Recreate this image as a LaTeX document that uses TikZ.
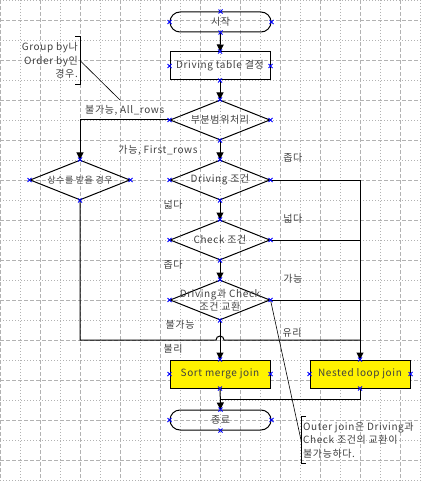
\documentclass[tikz,border=0pt]{standalone}
\usepackage{fontspec}
\setmainfont{Noto Sans CJK KR}[LetterSpace=6]
\usetikzlibrary{arrows.meta,shapes.geometric,calc}

\begin{document}
\begin{tikzpicture}[x=1pt, y=-1pt,
  every node/.style={font=\fontsize{10}{13.5}\selectfont, text=black!75},
  term/.style={draw, line width=1pt, rounded corners=10pt, minimum width=101pt,
    minimum height=20pt, inner sep=0pt},
  proc/.style={draw, line width=1pt, minimum width=100pt, minimum height=28pt, inner sep=0pt},
  job/.style={proc, fill=yellow},
  dec/.style={diamond, draw, line width=1pt, minimum width=100pt, minimum height=40pt, inner sep=0pt},
  memo/.style={align=left, inner xsep=2pt, inner ysep=0pt, minimum height=47pt},
  ln/.style={line width=1pt},
  arr/.style={ln, -{Triangle[length=7pt, width=7pt]}},
  lead/.style={line width=0.6pt},
  lbl/.style={inner sep=1pt},
  xm/.style={blue, line width=0.8pt},
  gdash/.style={black!30, line width=0.6pt, dash pattern=on 4pt off 2pt},
  gdot/.style={black!30, line width=0.6pt, dash pattern=on 1pt off 2pt}
]
\useasboundingbox (0,0) rectangle (421,481);
\foreach \i in {0,...,10} \draw[gdash] (40*\i,0) -- (40*\i,481);
\foreach \i in {0,...,10} \draw[gdot] (40*\i+20,0) -- (40*\i+20,481);
\foreach \i in {0,...,12} \draw[gdot] (0,40*\i) -- (421,40*\i);
\foreach \i in {0,...,11} \draw[gdash] (0,40*\i+20) -- (421,40*\i+20);

\node[term] (start) at (220.5,22) {시작};
\node[proc] (drv) at (220,66) {Driving table 결정};
\node[dec, label={center:부분범위처리}] (part) at (220,120) {};
\node[dec, label={[font=\fontsize{9}{12}\selectfont]center:상수를 받을 경우}] (const) at (80,180) {};
\node[dec, label={center:Driving 조건}] (dcond) at (220,180) {};
\node[dec, label={center:Check 조건}] (check) at (220,240) {};
\node[dec, label={[align=center]center:{Driving과 Check\\조건 교환}}] (swap) at (220,300) {};
\node[job] (sortj) at (220,374) {Sort merge join};
\node[job] (nestj) at (360,374) {Nested loop join};
\node[term] (fin) at (220.5,420) {종료};

\draw[arr] (start) -- (drv);
\draw[arr] (drv) -- (part);
\draw[arr] (part) -- (dcond) node[lbl, midway, left=21pt] {가능, First\_rows};
\draw[arr] (part.west) -| (const.north) node[lbl, pos=0.25, above=3pt] {불가능, All\_rows};
\draw[arr] (dcond) -- (check) node[lbl, pos=0.25, left=36pt] {넓다};
\draw[arr] (check) -- (swap) node[lbl, pos=0.25, left=36pt] {좁다};
\draw[arr] (swap) -- (sortj) node[lbl, pos=0.12, left=24pt] {불가능}
  node[lbl, pos=0.72, left=36pt] {불리};

\coordinate (rail) at (dcond.east -| nestj.north);
\draw[ln] (dcond.east) -- (rail) node[lbl, pos=0.25, yshift=22pt] {좁다};
\draw[ln] (check.east) -- (check.east -| nestj.north) node[lbl, pos=0.25, yshift=21pt] {넓다};
\draw[ln] (swap.east) -- (swap.east -| nestj.north) node[lbl, pos=0.25, yshift=21pt] {가능};
\draw[arr] (rail) -- (nestj);

\coordinate (mj) at ($(swap.south)!0.5!(sortj.north)$);
\draw[ln] (const.south) |- ([xshift=-4pt]mj) arc[start angle=180, end angle=0, radius=4pt]
  -- (mj -| nestj.north) node[lbl, pos=0.5, yshift=7pt] {유리};
\draw[ln] (nestj.south) |- ($(sortj.south)!0.5!(fin.north)$);
\draw[arr] (sortj) -- (fin);

\node[memo, align=right, anchor=east] (memo1) at (80,60.5) {Group by나\\Order by인\\경우.};
\draw[ln] ([xshift=-5pt]memo1.north east) -- (memo1.north east) -- (memo1.south east)
  -- ([xshift=-5pt]memo1.south east);
\coordinate (tip1) at (120,100);
\draw[lead] (memo1.east) -- (tip1);

\node[memo, anchor=west] (memo2) at (301,440) {Outer join은 Driving과\\Check 조건의 교환이\\불가능하다.};
\draw[ln] ([xshift=5pt]memo2.north west) -- (memo2.north west) -- (memo2.south west)
  -- ([xshift=5pt]memo2.south west);
\draw[lead] (swap.east) -- (memo2.west);

\foreach \n in {start,drv,part,const,dcond,check,swap,sortj,nestj,fin}
  \foreach \a in {north,south,east,west}
    \draw[xm] (\n.\a) +(-2,-2) -- +(2,2) +(-2,2) -- +(2,-2);
\end{tikzpicture}
\end{document}
